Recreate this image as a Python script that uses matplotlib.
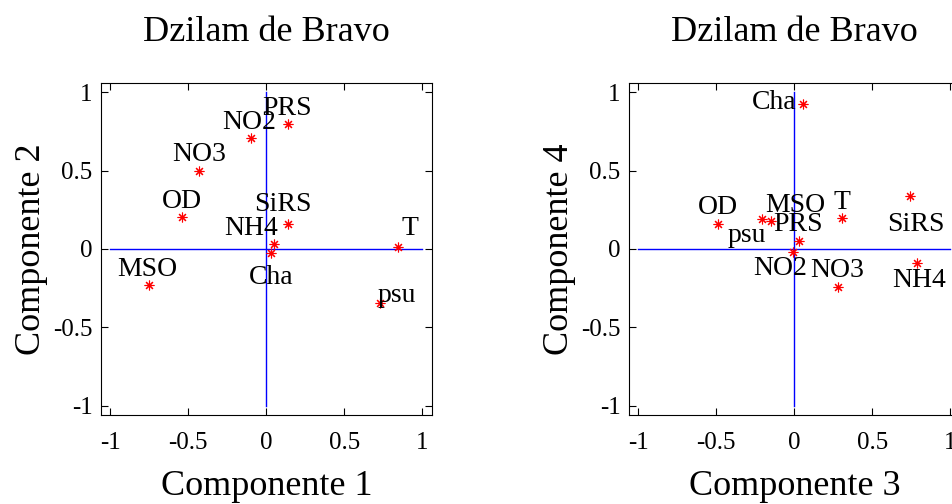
import matplotlib.pyplot as plt

plt.rcParams['font.family'] = ['Liberation Serif', 'DejaVu Serif']

# loadings of the variables on the principal components
variables = ["PRS", "NO2", "NO3", "OD", "SiRS", "NH4", "Cha", "T", "psu", "MSO"]

comp1 = [0.14, -0.10, -0.43, -0.54, 0.14, 0.05, 0.03, 0.845, 0.73, -0.75]
comp2 = [0.80, 0.71, 0.50, 0.205, 0.16, 0.03, -0.025, 0.01, -0.345, -0.23]

comp3 = [0.033, -0.01, 0.28, -0.487, 0.739, 0.786, 0.055, 0.305, -0.209, -0.151]
comp4 = [0.05, -0.018, -0.245, 0.161, 0.338, -0.089, 0.925, 0.20, 0.189, 0.178]

ticks = [-1, -0.5, 0, 0.5, 1]
tick_labels = ["-1", "-0.5", "0", "0.5", "1"]

# label placement (pixels from each point)
offsets_12 = {"PRS": (-1, 15), "NO2": (-2, 15), "NO3": (0, 16), "OD": (0, 15),
              "SiRS": (-5, 19), "NH4": (-23, 16), "Cha": (0, -25), "T": (12, 19),
              "psu": (17, 7), "MSO": (-2, 15)}
offsets_34 = {"PRS": (-1, 17), "NO2": (-13, -17), "NO3": (-1, 17), "OD": (0, 16),
              "SiRS": (6, -29), "NH4": (2, -18), "Cha": (-29, 2), "T": (0, 15),
              "psu": (-15, -16), "MSO": (24, 16)}


def biplot(ax, xs, ys, offsets, xlabel, ylabel):
    ax.plot([-1, 1], [0, 0], color="blue", lw=1)
    ax.plot([0, 0], [-1, 1], color="blue", lw=1)
    ax.plot(xs, ys, linestyle="none", marker=(8, 2, 0), color="red",
            markersize=7, markeredgewidth=0.8)
    for name, x, y in zip(variables, xs, ys):
        ax.annotate(name, (x, y), xytext=offsets[name], textcoords="offset pixels",
                    ha="center", va="center", fontsize=20)
    ax.set_xlim(-1.06, 1.06)
    ax.set_ylim(-1.06, 1.06)
    ax.set_xticks(ticks)
    ax.set_xticklabels(tick_labels)
    ax.set_yticks(ticks)
    ax.set_yticklabels(tick_labels)
    ax.tick_params(direction="in", length=5, top=True, right=True,
                   labelsize=18, width=0.8, pad=6)
    ax.tick_params(axis="x", pad=12)
    for sp in ax.spines.values():
        sp.set_linewidth(0.8)
    ax.set_title("Dzilam de Bravo", fontsize=26, pad=30)
    ax.set_xlabel(xlabel, fontsize=26, labelpad=12)
    ax.set_ylabel(ylabel, fontsize=26, labelpad=4)


fig = plt.figure(figsize=(9.53, 5.04), dpi=100)
ax1 = fig.add_axes([0.106, 0.1766, 0.347, 0.659])
ax2 = fig.add_axes([0.660, 0.1766, 0.347, 0.659])

biplot(ax1, comp1, comp2, offsets_12, "Componente 1", "Componente 2")
biplot(ax2, comp3, comp4, offsets_34, "Componente 3", "Componente 4")

fig.savefig("out.png", dpi=100)
